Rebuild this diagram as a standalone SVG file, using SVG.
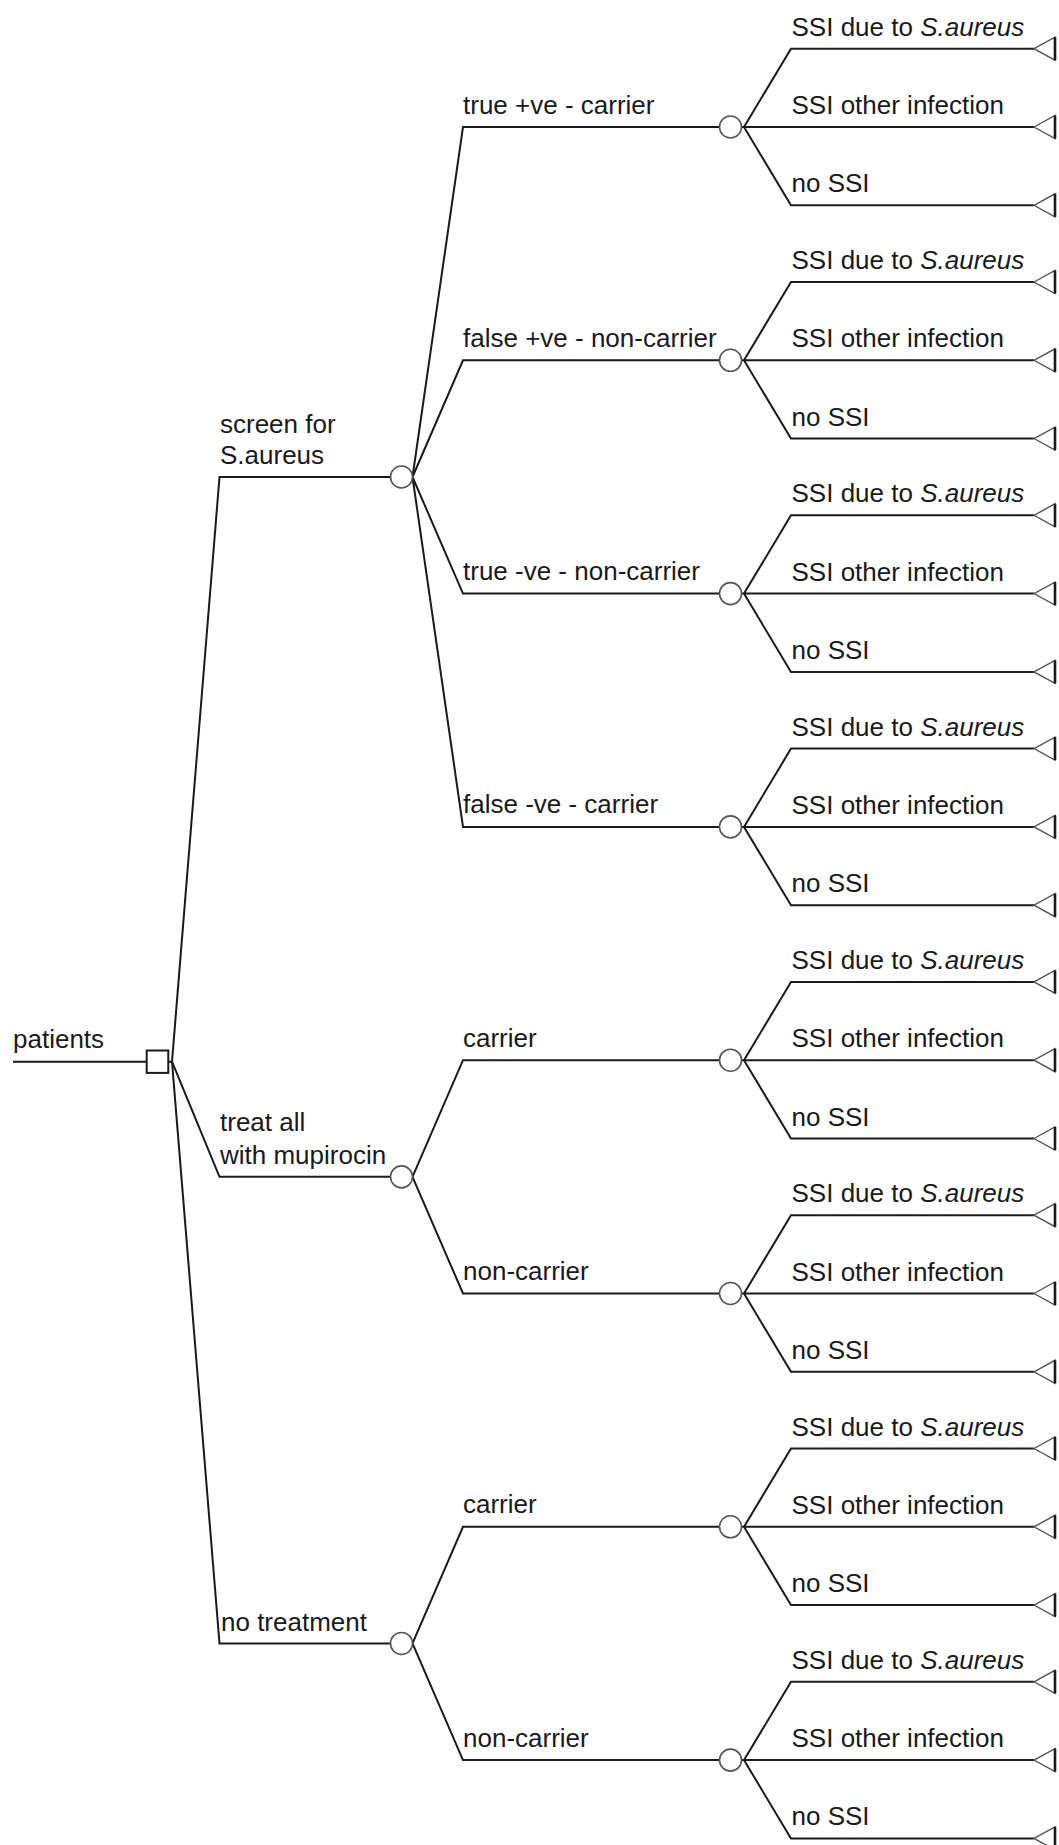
<svg xmlns="http://www.w3.org/2000/svg" xmlns:xlink="http://www.w3.org/1999/xlink" width="1059" height="1845" viewBox="0 0 1059 1845">
<style>
text{font-family:"Liberation Sans",Arial,sans-serif;font-size:26px;fill:#1a1a1a}
.it{font-style:italic}
.br{fill:none;stroke:#1a1a1a;stroke-width:2}
.chance{fill:#fff;stroke:#555;stroke-width:1.6}
.dec{fill:#fff;stroke:#1a1a1a;stroke-width:2}
.tri{fill:#fff;stroke:#555;stroke-width:1.4}
.base{stroke:#1a1a1a;stroke-width:2.6}
</style>
<defs>
<g id="termShape"><polygon class="tri" points="1034,0 1055,-11.5 1055,11.5"/><line class="base" x1="1055" y1="-11.5" x2="1055" y2="11.5"/></g>
<circle id="chanceShape" class="chance" cx="0" cy="0" r="11"/>
</defs>
<rect width="1059" height="1845" fill="#fff"/>
<g id="connectors">
<path class="br" d="M13 1061.7H146.7"/>
<path class="br" d="M168.3 1061.7H172L219.5 477H390.5"/>
<path class="br" d="M172 1061.7L219.5 1176.85H390.5"/>
<path class="br" d="M172 1061.7L219.5 1643.45H390.5"/>
<path class="br" d="M412.5 477L463 127H719.5M412.5 477L463 360.3H719.5M412.5 477L463 593.6H719.5M412.5 477L463 826.9H719.5"/>
<path class="br" d="M412.5 1176.85L463 1060.2H719.5M412.5 1176.85L463 1293.5H719.5"/>
<path class="br" d="M412.5 1643.45L463 1526.8H719.5M412.5 1643.45L463 1760.1H719.5"/>
<path class="br" d="M741.5 127H744L791 48.7H1034M741.5 127H1034M744 127L791 205.3H1034"/>
<path class="br" d="M741.5 360.3H744L791 282H1034M741.5 360.3H1034M744 360.3L791 438.6H1034"/>
<path class="br" d="M741.5 593.6H744L791 515.3H1034M741.5 593.6H1034M744 593.6L791 671.9H1034"/>
<path class="br" d="M741.5 826.9H744L791 748.6H1034M741.5 826.9H1034M744 826.9L791 905.2H1034"/>
<path class="br" d="M741.5 1060.2H744L791 981.9H1034M741.5 1060.2H1034M744 1060.2L791 1138.5H1034"/>
<path class="br" d="M741.5 1293.5H744L791 1215.2H1034M741.5 1293.5H1034M744 1293.5L791 1371.8H1034"/>
<path class="br" d="M741.5 1526.8H744L791 1448.5H1034M741.5 1526.8H1034M744 1526.8L791 1605.1H1034"/>
<path class="br" d="M741.5 1760.1H744L791 1681.8H1034M741.5 1760.1H1034M744 1760.1L791 1838.4H1034"/>
</g>
<g id="decision-patients"><rect class="dec" x="146.7" y="1050.5" width="21.6" height="22.4"/><text x="13" y="1048">patients</text></g>
<g id="chance-screen"><use xlink:href="#chanceShape" x="401.5" y="477"/><text x="220" y="433">screen for</text><text x="220" y="464">S.aureus</text></g>
<g id="chance-treat"><use xlink:href="#chanceShape" x="401.5" y="1176.85"/><text x="220" y="1131">treat all</text><text x="220" y="1163.5">with mupirocin</text></g>
<g id="chance-notreat"><use xlink:href="#chanceShape" x="401.5" y="1643.45"/><text x="221" y="1631">no treatment</text></g>
<g id="chance-s1" transform="translate(0,127)"><use xlink:href="#chanceShape" x="730.5"/><text x="463" y="-13.5">true +ve - carrier</text></g>
<g id="chance-s2" transform="translate(0,360.3)"><use xlink:href="#chanceShape" x="730.5"/><text x="463" y="-13.5">false +ve - non-carrier</text></g>
<g id="chance-s3" transform="translate(0,593.6)"><use xlink:href="#chanceShape" x="730.5"/><text x="463" y="-13.5">true -ve - non-carrier</text></g>
<g id="chance-s4" transform="translate(0,826.9)"><use xlink:href="#chanceShape" x="730.5"/><text x="463" y="-13.5">false -ve - carrier</text></g>
<g id="chance-t1" transform="translate(0,1060.2)"><use xlink:href="#chanceShape" x="730.5"/><text x="463" y="-13.5">carrier</text></g>
<g id="chance-t2" transform="translate(0,1293.5)"><use xlink:href="#chanceShape" x="730.5"/><text x="463" y="-13.5">non-carrier</text></g>
<g id="chance-n1" transform="translate(0,1526.8)"><use xlink:href="#chanceShape" x="730.5"/><text x="463" y="-13.5">carrier</text></g>
<g id="chance-n2" transform="translate(0,1760.1)"><use xlink:href="#chanceShape" x="730.5"/><text x="463" y="-13.5">non-carrier</text></g>
<g id="term-s1a" transform="translate(0,48.7)"><use xlink:href="#termShape"/><text x="791.5" y="-13">SSI due to <tspan class="it">S.aureus</tspan></text></g>
<g id="term-s1b" transform="translate(0,127)"><use xlink:href="#termShape"/><text x="791.5" y="-13">SSI other infection</text></g>
<g id="term-s1c" transform="translate(0,205.3)"><use xlink:href="#termShape"/><text x="791.5" y="-13">no SSI</text></g>
<g id="term-s2a" transform="translate(0,282)"><use xlink:href="#termShape"/><text x="791.5" y="-13">SSI due to <tspan class="it">S.aureus</tspan></text></g>
<g id="term-s2b" transform="translate(0,360.3)"><use xlink:href="#termShape"/><text x="791.5" y="-13">SSI other infection</text></g>
<g id="term-s2c" transform="translate(0,438.6)"><use xlink:href="#termShape"/><text x="791.5" y="-13">no SSI</text></g>
<g id="term-s3a" transform="translate(0,515.3)"><use xlink:href="#termShape"/><text x="791.5" y="-13">SSI due to <tspan class="it">S.aureus</tspan></text></g>
<g id="term-s3b" transform="translate(0,593.6)"><use xlink:href="#termShape"/><text x="791.5" y="-13">SSI other infection</text></g>
<g id="term-s3c" transform="translate(0,671.9)"><use xlink:href="#termShape"/><text x="791.5" y="-13">no SSI</text></g>
<g id="term-s4a" transform="translate(0,748.6)"><use xlink:href="#termShape"/><text x="791.5" y="-13">SSI due to <tspan class="it">S.aureus</tspan></text></g>
<g id="term-s4b" transform="translate(0,826.9)"><use xlink:href="#termShape"/><text x="791.5" y="-13">SSI other infection</text></g>
<g id="term-s4c" transform="translate(0,905.2)"><use xlink:href="#termShape"/><text x="791.5" y="-13">no SSI</text></g>
<g id="term-t1a" transform="translate(0,981.9)"><use xlink:href="#termShape"/><text x="791.5" y="-13">SSI due to <tspan class="it">S.aureus</tspan></text></g>
<g id="term-t1b" transform="translate(0,1060.2)"><use xlink:href="#termShape"/><text x="791.5" y="-13">SSI other infection</text></g>
<g id="term-t1c" transform="translate(0,1138.5)"><use xlink:href="#termShape"/><text x="791.5" y="-13">no SSI</text></g>
<g id="term-t2a" transform="translate(0,1215.2)"><use xlink:href="#termShape"/><text x="791.5" y="-13">SSI due to <tspan class="it">S.aureus</tspan></text></g>
<g id="term-t2b" transform="translate(0,1293.5)"><use xlink:href="#termShape"/><text x="791.5" y="-13">SSI other infection</text></g>
<g id="term-t2c" transform="translate(0,1371.8)"><use xlink:href="#termShape"/><text x="791.5" y="-13">no SSI</text></g>
<g id="term-n1a" transform="translate(0,1448.5)"><use xlink:href="#termShape"/><text x="791.5" y="-13">SSI due to <tspan class="it">S.aureus</tspan></text></g>
<g id="term-n1b" transform="translate(0,1526.8)"><use xlink:href="#termShape"/><text x="791.5" y="-13">SSI other infection</text></g>
<g id="term-n1c" transform="translate(0,1605.1)"><use xlink:href="#termShape"/><text x="791.5" y="-13">no SSI</text></g>
<g id="term-n2a" transform="translate(0,1681.8)"><use xlink:href="#termShape"/><text x="791.5" y="-13">SSI due to <tspan class="it">S.aureus</tspan></text></g>
<g id="term-n2b" transform="translate(0,1760.1)"><use xlink:href="#termShape"/><text x="791.5" y="-13">SSI other infection</text></g>
<g id="term-n2c" transform="translate(0,1838.4)"><use xlink:href="#termShape"/><text x="791.5" y="-13">no SSI</text></g>
</svg>
